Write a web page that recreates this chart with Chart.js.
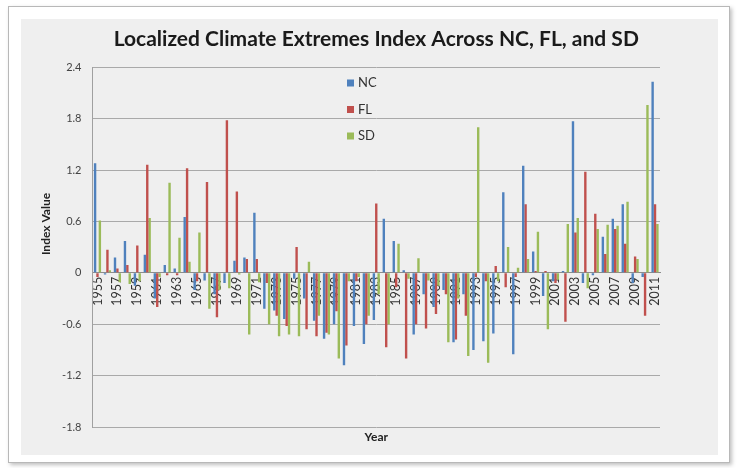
<!DOCTYPE html>
<html>
<head>
<meta charset="utf-8">
<title>Localized Climate Extremes Index</title>
<script src="https://cdn.jsdelivr.net/npm/chart.js@4.4.1/dist/chart.umd.min.js"></script>
<style>
  html, body { margin: 0; padding: 0; background: #fff; }
  #wrap { position: relative; width: 738px; height: 468px; overflow: hidden; }
  .frame { position: absolute; left: 8px; top: 6px; width: 720px; height: 455px;
           border: 1px solid #b8b8b8; background: #fff; box-shadow: 2px 2px 4px rgba(0,0,0,0.25); }
  .panel { position: absolute; left: 21px; top: 19px; width: 697px; height: 436px; background: #efefef; }
  canvas { position: absolute; left: 0; top: 0; }
</style>
</head>
<body>
<div id="wrap">
  <div class="frame"></div>
  <div class="panel"></div>
  <canvas id="ceiChart" width="738" height="468"></canvas>
</div>
<script>
// Years 1955 - 2011
const years = [
  1955, 1956, 1957, 1958, 1959, 1960, 1961, 1962, 1963, 1964,
  1965, 1966, 1967, 1968, 1969, 1970, 1971, 1972, 1973, 1974,
  1975, 1976, 1977, 1978, 1979, 1980, 1981, 1982, 1983, 1984,
  1985, 1986, 1987, 1988, 1989, 1990, 1991, 1992, 1993, 1994,
  1995, 1996, 1997, 1998, 1999, 2000, 2001, 2002, 2003, 2004,
  2005, 2006, 2007, 2008, 2009, 2010, 2011
];

const ncValues = [
  1.28, -0.02, 0.18, 0.37, -0.15, 0.21, -0.30, 0.09, 0.05, 0.65,
  -0.20, -0.09, -0.25, -0.12, 0.14, 0.18, 0.70, -0.42, -0.44, -0.54,
  -0.07, -0.30, -0.56, -0.77, -0.60, -1.08, -0.62, -0.83, -0.55, 0.63,
  0.37, 0.03, -0.72, -0.25, -0.40, -0.20, -0.81, -0.25, -0.90, -0.80,
  -0.71, 0.94, -0.95, 1.25, 0.25, -0.27, -0.10, 0.02, 1.77, -0.12,
  -0.03, 0.42, 0.63, 0.80, -0.12, -0.05, 2.23
];

const flValues = [
  -0.05, 0.27, 0.05, 0.09, 0.32, 1.26, -0.40, -0.03, -0.03, 1.22,
  -0.10, 1.06, -0.52, 1.78, 0.95, 0.16, 0.16, -0.12, -0.50, -0.62,
  0.30, -0.66, -0.74, -0.70, -0.45, -0.85, -0.10, -0.60, 0.81, -0.87,
  -0.17, -1.00, -0.60, -0.65, -0.48, -0.25, -0.78, -0.50, -0.05, -0.10,
  0.08, -0.17, -0.05, 0.80, 0.02, 0.02, -0.12, -0.57, 0.47, 1.18,
  0.69, 0.22, 0.51, 0.34, 0.19, -0.50, 0.80
];

const sdValues = [
  0.61, 0.03, -0.11, -0.13, -0.10, 0.64, -0.05, 1.05, 0.41, 0.13,
  0.47, -0.42, -0.20, -0.18, -0.02, -0.72, -0.11, -0.60, -0.74, -0.72,
  -0.74, 0.13, -0.50, -0.72, -1.00, -0.10, -0.05, -0.50, -0.25, -0.60,
  0.34, -0.07, 0.17, -0.09, -0.15, -0.81, -0.30, -0.97, 1.70, -1.05,
  -0.10, 0.30, 0.06, 0.16, 0.48, -0.66, -0.08, 0.57, 0.64, -0.18,
  0.51, 0.56, 0.55, 0.83, 0.16, 1.96, 0.57
];

const seriesNames = ['NC', 'FL', 'SD'];
const seriesColors = ['#4f81bd', '#c0504d', '#9bbb59'];

const FONT = 'Lato, "Open Sans", sans-serif';

// legend drawn inside the plot, plus the two axis titles
const chartExtras = {
  id: 'chartExtras',
  afterDraw(chart) {
    const ctx = chart.ctx;
    const area = chart.chartArea;
    ctx.save();

    ctx.font = '13px ' + FONT;
    ctx.textBaseline = 'middle';
    ctx.textAlign = 'left';
    chart.data.datasets.forEach((ds, i) => {
      const y = 83 + i * 26.5;
      ctx.fillStyle = ds.backgroundColor;
      ctx.fillRect(347, y - 3.5, 7, 7);
      ctx.fillStyle = '#333';
      ctx.fillText(ds.label, 358, y);
    });

    ctx.font = 'bold 12px ' + FONT;
    ctx.fillStyle = '#222';
    ctx.textAlign = 'center';
    ctx.fillText('Year', (area.left + area.right) / 2, 437);

    ctx.translate(46, 224);
    ctx.rotate(-Math.PI / 2);
    ctx.fillText('Index Value', 0, 0);
    ctx.restore();
  }
};

const ctx = document.getElementById('ceiChart').getContext('2d');
new Chart(ctx, {
  type: 'bar',
  data: {
    labels: years,
    datasets: [
      { label: seriesNames[0], data: ncValues, backgroundColor: seriesColors[0] },
      { label: seriesNames[1], data: flValues, backgroundColor: seriesColors[1] },
      { label: seriesNames[2], data: sdValues, backgroundColor: seriesColors[2] }
    ]
  },
  options: {
    responsive: false,
    animation: false,
    devicePixelRatio: 1,
    layout: { padding: { top: 0, left: 33, right: 78, bottom: 41 } },
    datasets: {
      bar: { categoryPercentage: 0.72, barPercentage: 1.0, borderWidth: 0 }
    },
    plugins: {
      legend: { display: false },
      tooltip: { enabled: false },
      title: {
        display: true,
        text: 'Localized Climate Extremes Index Across NC, FL, and SD',
        fullSize: false,
        color: '#1a1a1a',
        font: { family: FONT, size: 21, weight: 'bold' },
        padding: { top: 27, bottom: 15 }
      }
    },
    scales: {
      x: {
        position: { y: 0 },
        grid: { display: false, drawTicks: false },
        border: { display: true, color: '#8c8c8c', width: 1 },
        ticks: {
          autoSkip: false,
          minRotation: 90,
          maxRotation: 90,
          padding: 4,
          color: '#333',
          font: { family: FONT, size: 12.5 },
          callback: function(value, index) {
            return index % 2 === 0 ? this.getLabelForValue(value) : '';
          }
        }
      },
      y: {
        min: -1.8,
        max: 2.4,
        afterFit: function(scale) { scale.width = 59.5; },
        grid: { color: '#a9a9a9', lineWidth: 1, drawTicks: false },
        border: { display: true, color: '#a0a0a0' },
        ticks: {
          stepSize: 0.6,
          padding: 11,
          color: '#444',
          font: { family: FONT, size: 11 },
          callback: v => Math.abs(v) < 1e-9 ? '0' : v.toFixed(1)
        }
      }
    }
  },
  plugins: [chartExtras]
});
</script>
</body>
</html>
